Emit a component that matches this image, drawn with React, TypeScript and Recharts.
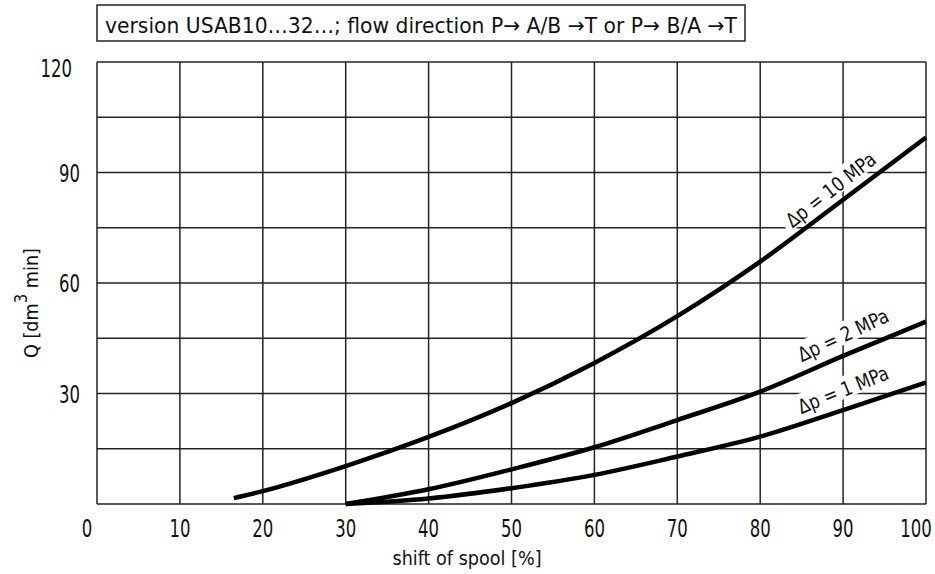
import React from 'react';
import { LineChart, Line, XAxis, YAxis, CartesianGrid, ReferenceDot } from 'recharts';

// spool shift [%]
const shift = [16.5, 20, 30, 40, 50, 60, 70, 80, 90, 100];
// Q [dm3/min] per pressure drop
const q10MPa = [1.6, 3.5, 10.3, 18.2, 27.4, 38.3, 51, 65.8, 82.6, 99.5];
const q2MPa = [null, null, 0, 4.0, 9.4, 15.4, 22.8, 30.5, 40.2, 49.5];
const q1MPa = [null, null, 0, 1.5, 4.3, 7.9, 12.9, 18.3, 25.5, 33];

const xTicks = [0, 10, 20, 30, 40, 50, 60, 70, 80, 90, 100];
const yGrid = [0, 15, 30, 45, 60, 75, 90, 105, 120];
const yLabels = [30, 60, 90, 120];

// curve labels: position (data coords), angle
const curveLabels = [
  { text: 'Δp = 10 MPa', x: 88.5, y: 85.3, angle: -38, len: 108 },
  { text: 'Δp = 2 MPa', x: 90, y: 45.8, angle: -25, len: 98 },
  { text: 'Δp = 1 MPa', x: 90, y: 31, angle: -22, len: 96 },
];

const FONT = '"DejaVu Sans", sans-serif';
const NARROW = 0.66; // squeeze DejaVu digits toward the narrow drafting font

const chartData = shift.map((x, i) => ({
  x,
  p10: q10MPa[i],
  p2: q2MPa[i],
  p1: q1MPa[i],
}));

function XTick(props: any) {
  const { x, y, payload } = props;
  let dx = 0;
  if (payload.value === 0) dx = -10;
  if (payload.value === 100) dx = -10;
  return (
    <g transform={`translate(${x + dx},${y + 23}) scale(${NARROW},1)`}>
      <text x={0} y={0} textAnchor="middle" fontFamily={FONT} fontSize={25} fill="#111">
        {payload.value}
      </text>
    </g>
  );
}

function YTick(props: any) {
  const { x, y, payload } = props;
  if (!yLabels.includes(payload.value)) return null;
  const top = payload.value === 120;
  return (
    <g transform={`translate(${top ? x - 8 : x},${y + (top ? 15 : 9)}) scale(${NARROW},1)`}>
      <text x={0} y={0} textAnchor="end" fontFamily={FONT} fontSize={25} fill="#111">
        {payload.value}
      </text>
    </g>
  );
}

function CurveLabel({ cx, cy, text, angle, len }: any) {
  if (cx == null || cy == null) return null;
  const w = len + 10;
  return (
    <g transform={`translate(${cx},${cy}) rotate(${angle})`}>
      <rect x={-w / 2} y={-13} width={w} height={22} fill="#fff" />
      <text
        x={0}
        y={7}
        textAnchor="middle"
        fontFamily={FONT}
        fontSize={20}
        fill="#111"
        textLength={len}
        lengthAdjust="spacingAndGlyphs"
      >
        {text}
      </text>
    </g>
  );
}

export default function App() {
  return (
    <div style={{ position: 'absolute', left: 0, top: 0, width: 935, height: 574, background: '#fff' }}>
      <LineChart
        width={935}
        height={574}
        data={chartData}
        margin={{ top: 62, right: 9, bottom: 30, left: 37 }}
      >
        <CartesianGrid stroke="#222" strokeWidth={1.5} vertical horizontal />
        <XAxis
          type="number"
          dataKey="x"
          domain={[0, 100]}
          ticks={xTicks}
          height={40}
          axisLine={false}
          tickLine={false}
          tickSize={0}
          tickMargin={10}
          tick={<XTick />}
          interval={0}
        />
        <YAxis
          type="number"
          domain={[0, 120]}
          ticks={yGrid}
          width={60}
          axisLine={false}
          tickLine={false}
          tickSize={0}
          tickMargin={17}
          tick={<YTick />}
          interval={0}
        />
        <Line type="monotone" dataKey="p10" stroke="#000" strokeWidth={4.5} dot={false} isAnimationActive={false} />
        <Line type="monotone" dataKey="p2" stroke="#000" strokeWidth={4.5} dot={false} isAnimationActive={false} />
        <Line type="monotone" dataKey="p1" stroke="#000" strokeWidth={4.5} dot={false} isAnimationActive={false} />
        {curveLabels.map((l) => (
          <ReferenceDot
            key={l.text}
            x={l.x}
            y={l.y}
            r={0}
            shape={(p: any) => <CurveLabel cx={p.cx} cy={p.cy} text={l.text} angle={l.angle} len={l.len} />}
          />
        ))}
      </LineChart>
      <svg width={935} height={574} style={{ position: 'absolute', left: 0, top: 0, pointerEvents: 'none' }}>
        <rect x={97} y={5} width={648} height={36} fill="none" stroke="#222" strokeWidth={1.5} />
        <text
          x={105}
          y={33}
          fontFamily={FONT}
          fontSize={22}
          fill="#111"
          textLength={632}
          lengthAdjust="spacingAndGlyphs"
        >
          version USAB10…32…; flow direction P→ A/B →T or P→ B/A →T
        </text>
        <text
          x={467}
          y={565}
          textAnchor="middle"
          fontFamily={FONT}
          fontSize={19}
          fill="#111"
          textLength={149}
          lengthAdjust="spacingAndGlyphs"
        >
          shift of spool [%]
        </text>
        <g transform="translate(38,303) rotate(-90)">
          <text
            x={0}
            y={0}
            textAnchor="middle"
            fontFamily={FONT}
            fontSize={20}
            fill="#111"
            textLength={110}
            lengthAdjust="spacingAndGlyphs"
          >
            Q [dm<tspan dy={-11} fontSize={17}>3</tspan><tspan dy={11}> min]</tspan>
          </text>
        </g>
      </svg>
    </div>
  );
}
